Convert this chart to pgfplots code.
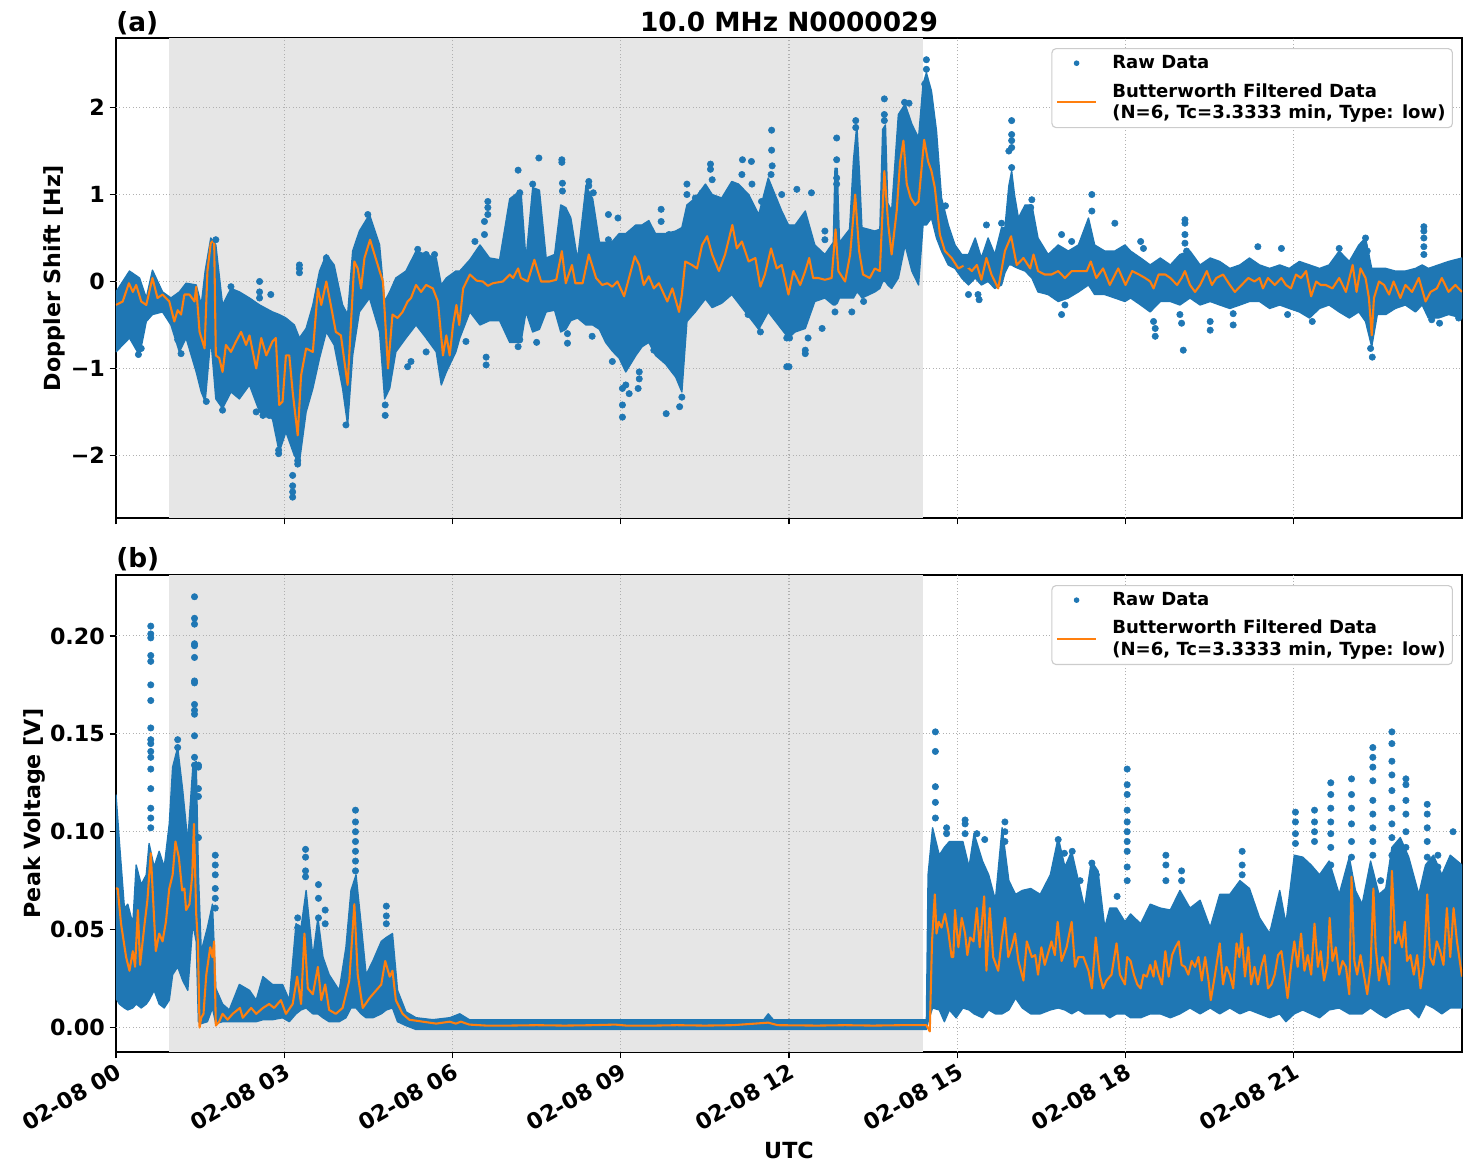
\documentclass[border=0pt]{standalone}
\usepackage{fontspec}
\setmainfont{DejaVu Sans}
\usepackage{pgfplots}
\usepackage{pgfplotstable}
\pgfplotsset{compat=1.18}

\definecolor{rawblue}{HTML}{1F77B4}
\definecolor{filtorange}{HTML}{FF7F0E}
\definecolor{nightshade}{HTML}{E6E6E6}
\definecolor{gridgray}{HTML}{B0B0B0}
\definecolor{legendedge}{HTML}{CCCCCC}

\newcommand{\tickfont}{\fontsize{16}{19}\selectfont\bfseries}
\newcommand{\legfont}{\fontsize{13}{15.5}\selectfont\bfseries}
\newcommand{\titlefont}{\fontsize{19}{22}\selectfont\bfseries}

% ---------------- Doppler shift: spread of raw samples (upper / lower edge) ----------------
\pgfplotstableread{
h up lo
0.00 -0.12 -0.81
0.24 0.12 -0.65
0.42 0.04 -0.85
0.54 -0.19 -0.46
0.65 0.13 -0.38
0.83 -0.12 -0.35
0.98 -0.19 -0.50
1.13 -0.12 -0.81
1.25 -0.02 -0.65
1.43 -0.04 -1.04
1.52 -0.27 -1.27
1.59 0.12 -1.38
1.69 0.50 -0.65
1.78 0.42 -1.35
1.90 -0.27 -1.46
2.05 -0.08 -1.27
2.20 -0.12 -1.35
2.38 -0.19 -1.19
2.56 -0.27 -1.50
2.79 -0.35 -1.58
2.91 -0.38 -1.96
3.03 -0.42 -1.73
3.18 -0.50 -2.00
3.27 -0.65 -2.08
3.39 -0.54 -1.50
3.51 -0.27 -1.23
3.63 0.12 -0.88
3.75 0.31 -0.58
3.89 0.19 -0.73
4.04 -0.27 -1.23
4.13 -0.38 -1.65
4.22 0.35 -0.85
4.34 0.58 -0.35
4.52 0.77 -0.19
4.70 0.42 -0.58
4.79 -0.23 -1.35
4.88 -0.12 -1.23
4.99 0.04 -0.81
5.17 0.12 -0.65
5.35 0.35 -0.50
5.53 0.31 -0.65
5.71 0.27 -0.81
5.80 -0.04 -1.19
5.89 0.04 -1.04
6.06 0.12 -0.81
6.13 0.12 -0.65
6.31 0.25 -0.35
6.49 0.42 -0.50
6.66 0.27 -0.45
6.84 0.25 -0.45
7.02 0.95 -0.70
7.22 1.05 -0.70
7.31 0.25 -0.35
7.43 1.08 -0.58
7.55 1.05 -0.55
7.67 0.27 -0.35
7.82 0.31 -0.33
7.93 0.88 -0.58
8.02 0.85 -0.55
8.11 0.73 -0.45
8.23 0.25 -0.42
8.38 1.10 -0.50
8.50 0.95 -0.50
8.62 0.45 -0.55
8.73 0.45 -0.70
8.85 0.46 -0.80
8.97 0.55 -0.88
9.09 0.55 -1.04
9.27 0.65 -0.85
9.38 0.65 -0.75
9.50 0.70 -0.70
9.62 0.55 -0.85
9.80 0.55 -0.95
9.98 0.58 -1.10
10.09 0.62 -1.27
10.18 0.88 -0.46
10.33 0.96 -0.35
10.51 1.12 -0.20
10.63 1.00 -0.30
10.80 0.96 -0.25
10.98 1.15 -0.15
11.10 1.12 -0.25
11.28 1.00 -0.40
11.46 0.77 -0.55
11.63 1.19 -0.35
11.75 1.00 -0.45
11.87 0.81 -0.55
11.99 0.65 -0.65
12.11 0.65 -0.58
12.29 0.81 -0.54
12.46 0.42 -0.23
12.64 0.31 -0.19
12.79 0.45 -0.27
12.82 1.30 -0.27
12.86 1.30 -0.25
12.90 0.45 -0.19
13.08 0.60 -0.19
13.15 1.40 -0.19
13.21 1.80 -0.12
13.26 1.20 -0.15
13.30 0.62 -0.19
13.53 0.58 -0.12
13.62 0.60 -0.08
13.67 1.75 0.00
13.72 1.80 0.00
13.76 0.90 -0.04
13.83 0.81 -0.08
13.95 1.92 0.04
14.07 2.04 0.42
14.19 1.81 0.12
14.31 1.65 -0.04
14.39 2.27 0.65
14.45 2.40 0.65
14.54 2.19 0.73
14.63 1.73 0.50
14.72 0.96 0.35
14.84 0.65 0.19
14.96 0.42 0.15
15.08 0.31 0.04
15.20 0.31 -0.04
15.32 0.50 0.04
15.43 0.27 -0.04
15.55 0.50 0.00
15.67 0.31 -0.08
15.79 0.62 -0.04
15.85 0.62 0.10
15.92 1.10 0.19
15.97 1.27 0.19
16.02 1.00 0.17
16.09 0.73 0.15
16.21 0.88 0.12
16.33 0.88 0.04
16.44 0.50 -0.12
16.62 0.31 -0.15
16.80 0.42 -0.23
16.98 0.35 -0.19
17.16 0.42 -0.12
17.34 0.73 -0.04
17.45 0.42 -0.15
17.63 0.35 -0.15
17.81 0.35 -0.19
17.99 0.42 -0.23
18.09 0.35 -0.19
18.27 0.27 -0.27
18.44 0.19 -0.35
18.62 0.27 -0.23
18.80 0.19 -0.23
18.97 0.31 -0.27
19.15 0.35 -0.19
19.33 0.19 -0.27
19.51 0.27 -0.23
19.68 0.23 -0.27
19.86 0.15 -0.31
20.04 0.19 -0.27
20.21 0.27 -0.23
20.39 0.19 -0.23
20.57 0.15 -0.31
20.75 0.19 -0.27
20.92 0.15 -0.31
21.10 0.23 -0.35
21.28 0.19 -0.42
21.46 0.15 -0.31
21.63 0.19 -0.27
21.81 0.35 -0.35
21.99 0.23 -0.42
22.16 0.42 -0.35
22.28 0.50 -0.46
22.39 0.15 -0.75
22.49 0.15 -0.38
22.64 0.15 -0.38
22.81 0.12 -0.31
22.99 0.12 -0.27
23.17 0.15 -0.35
23.29 0.19 -0.27
23.40 0.15 -0.42
23.58 0.19 -0.42
23.76 0.23 -0.38
24.00 0.27 -0.42
}\topenv

% ---------------- Doppler shift: isolated raw samples ----------------
\pgfplotstableread{
h v
2.56 0.00
2.56 -0.12
2.56 -0.19
2.76 -0.15
3.27 0.19
3.27 0.15
3.27 0.10
3.15 -2.23
3.15 -2.35
3.15 -2.42
3.15 -2.48
3.24 -2.06
3.24 -2.10
2.90 -1.94
2.90 -1.98
4.80 -1.54
4.80 -1.42
0.40 -0.84
0.45 -0.77
1.10 -0.67
1.16 -0.83
2.05 -0.06
5.38 0.37
5.53 0.31
5.68 0.31
4.10 -1.65
1.61 -1.38
1.90 -1.48
2.50 -1.50
2.62 -1.54
2.73 -1.54
5.59 -0.65
5.53 -0.81
5.20 -0.98
5.26 -0.92
4.49 0.77
1.78 0.48
3.75 0.27
6.60 -0.87
6.60 -0.96
6.63 0.92
6.63 0.85
6.63 0.77
6.57 0.69
6.57 0.54
6.40 0.46
6.24 -0.69
7.17 1.28
7.08 0.88
7.20 1.02
7.20 -0.67
7.17 -0.75
7.54 1.42
7.50 -0.70
7.43 1.12
7.95 1.40
7.95 1.37
7.96 1.13
7.96 1.04
8.05 -0.71
8.05 -0.60
8.43 1.15
8.43 1.10
8.49 -0.63
8.51 1.02
8.78 0.77
8.95 0.73
8.78 0.48
8.85 -0.92
9.03 -1.56
9.03 -1.42
9.03 -1.23
9.09 -1.19
9.15 -1.29
9.33 -1.04
9.33 -1.12
9.31 -1.23
9.59 -0.79
9.72 0.83
9.72 0.69
9.86 0.54
9.81 -1.52
10.05 -1.44
10.09 -1.33
10.18 1.12
10.18 1.00
10.33 0.96
10.45 1.02
10.60 1.35
10.60 1.29
10.63 1.17
11.16 1.23
11.17 1.40
11.33 1.38
11.34 1.12
11.51 0.92
11.27 -0.38
11.49 -0.58
11.69 1.74
11.69 1.51
11.70 1.33
11.68 1.23
11.87 1.00
11.96 -0.65
11.96 -0.98
12.14 1.06
12.40 1.02
12.64 0.58
12.64 0.48
12.85 1.65
12.85 1.40
12.85 1.19
12.85 1.12
13.19 1.85
13.19 1.77
13.70 2.10
13.70 1.92
13.70 1.85
14.06 2.06
14.14 2.05
14.45 2.55
14.45 2.44
14.42 2.27
14.79 0.87
15.17 0.19
15.20 -0.15
15.37 -0.15
15.39 -0.21
15.52 0.65
15.79 0.67
15.97 1.85
15.97 1.69
15.97 1.62
15.97 1.54
15.92 1.50
15.97 1.31
16.33 0.94
16.31 0.85
17.40 1.00
17.40 0.81
17.81 0.67
16.86 0.54
17.04 0.46
16.86 -0.38
16.92 -0.27
12.00 -0.98
12.01 -0.65
12.29 -0.79
12.29 -0.83
12.34 -0.65
12.59 -0.54
13.12 -0.35
13.33 -0.23
12.82 -0.35
19.06 0.71
19.06 0.67
19.06 0.54
19.06 0.44
19.03 -0.79
19.09 0.35
18.97 -0.38
19.00 -0.48
18.27 0.46
18.32 0.38
18.53 -0.54
18.53 -0.63
18.50 -0.46
19.51 -0.46
19.51 -0.56
19.92 -0.37
19.92 -0.50
20.36 0.40
20.78 0.38
21.81 0.38
22.28 0.50
22.25 0.42
22.31 0.35
23.32 0.63
23.32 0.58
23.32 0.50
23.32 0.40
23.32 0.31
22.40 -0.87
22.37 -0.77
21.33 -0.46
21.16 -0.33
20.89 -0.38
23.46 -0.44
23.94 -0.42
23.60 -0.48
}\topdots

% ---------------- Doppler shift: low-pass filtered ----------------
\pgfplotstableread{
h v
0.00 -0.27
0.12 -0.23
0.23 -0.02
0.30 -0.12
0.36 -0.04
0.45 -0.23
0.54 -0.27
0.65 0.04
0.74 -0.19
0.83 -0.15
0.95 -0.23
1.04 -0.46
1.10 -0.33
1.16 -0.38
1.22 -0.15
1.31 -0.15
1.40 -0.23
1.43 -0.06
1.49 -0.58
1.58 -0.77
1.63 0.12
1.69 0.44
1.75 0.48
1.78 -0.85
1.84 -0.88
1.90 -1.04
1.96 -0.73
2.05 -0.81
2.14 -0.69
2.23 -0.58
2.32 -0.73
2.38 -0.62
2.50 -1.00
2.59 -0.65
2.68 -0.85
2.79 -0.69
2.85 -0.65
2.91 -1.42
2.97 -1.38
3.03 -0.85
3.09 -0.85
3.15 -1.27
3.24 -1.77
3.30 -1.08
3.39 -0.77
3.51 -0.81
3.60 -0.08
3.66 -0.27
3.75 0.00
3.83 -0.27
3.92 -0.58
4.01 -0.62
4.13 -1.19
4.25 0.23
4.31 0.15
4.37 -0.08
4.43 0.27
4.53 0.48
4.61 0.31
4.70 0.12
4.76 0.00
4.85 -1.00
4.93 -0.38
5.02 -0.42
5.11 -0.35
5.20 -0.23
5.26 -0.19
5.35 -0.04
5.44 -0.12
5.53 -0.04
5.65 -0.08
5.74 -0.23
5.83 -0.85
5.89 -0.62
5.95 -0.85
6.01 -0.50
6.07 -0.27
6.12 -0.50
6.19 -0.08
6.31 0.08
6.43 0.01
6.54 0.00
6.63 -0.05
6.72 -0.02
6.90 0.00
7.02 0.08
7.08 0.04
7.17 0.15
7.22 0.04
7.34 0.00
7.46 0.25
7.52 0.12
7.58 0.00
7.73 0.00
7.85 0.02
7.95 0.35
8.02 -0.02
8.13 0.19
8.19 -0.02
8.32 -0.02
8.43 0.31
8.56 0.04
8.67 -0.04
8.76 -0.02
8.85 -0.06
8.94 0.00
9.06 -0.17
9.18 0.12
9.25 0.29
9.33 0.19
9.41 -0.04
9.50 0.06
9.59 -0.08
9.68 -0.02
9.83 -0.23
9.92 -0.08
10.04 -0.35
10.09 -0.15
10.15 0.23
10.27 0.19
10.36 0.15
10.45 0.42
10.54 0.52
10.63 0.31
10.75 0.12
10.86 0.31
10.99 0.65
11.07 0.38
11.16 0.46
11.28 0.23
11.40 0.27
11.49 -0.06
11.57 0.08
11.68 0.38
11.78 0.15
11.87 0.19
11.99 -0.15
12.08 0.12
12.20 -0.04
12.29 0.12
12.36 0.27
12.43 0.04
12.52 0.04
12.64 0.02
12.76 0.04
12.83 0.60
12.88 0.12
13.00 0.00
13.09 0.31
13.18 1.00
13.25 0.35
13.32 0.08
13.44 0.04
13.53 0.15
13.62 0.12
13.70 1.27
13.77 0.65
13.83 0.31
13.92 0.81
13.98 1.37
14.04 1.62
14.10 1.12
14.17 0.96
14.25 0.88
14.31 0.92
14.41 1.63
14.48 1.38
14.54 1.27
14.60 1.08
14.69 0.54
14.78 0.35
14.90 0.27
15.02 0.15
15.14 0.19
15.26 0.12
15.35 0.19
15.43 0.02
15.52 0.27
15.61 0.08
15.73 -0.08
15.85 0.35
15.96 0.52
16.06 0.19
16.18 0.27
16.30 0.15
16.36 0.31
16.44 0.12
16.56 0.08
16.68 0.08
16.80 0.12
16.92 0.04
17.04 0.12
17.16 0.12
17.31 0.12
17.38 0.23
17.48 0.04
17.60 0.15
17.72 -0.04
17.87 0.15
18.00 -0.04
18.12 0.12
18.24 0.08
18.35 0.04
18.44 0.00
18.50 -0.08
18.59 0.08
18.71 0.08
18.80 0.04
18.92 -0.04
19.00 0.04
19.06 0.12
19.15 -0.04
19.24 -0.12
19.33 -0.04
19.45 0.12
19.54 -0.04
19.62 0.04
19.74 0.08
19.86 -0.04
19.95 -0.12
20.07 -0.04
20.19 0.04
20.30 0.00
20.39 0.04
20.45 -0.08
20.54 0.04
20.66 -0.04
20.78 0.04
20.86 -0.04
20.95 -0.08
21.04 0.08
21.13 0.04
21.22 0.12
21.31 -0.17
21.40 0.00
21.48 -0.04
21.57 -0.04
21.69 -0.08
21.81 0.04
21.93 -0.12
22.05 0.19
22.12 -0.12
22.19 0.15
22.28 0.04
22.34 -0.19
22.39 -0.62
22.43 -0.19
22.52 0.00
22.61 -0.04
22.70 -0.15
22.78 0.00
22.90 -0.19
22.99 -0.04
23.11 -0.12
23.23 0.04
23.35 -0.23
23.44 -0.12
23.55 -0.08
23.64 0.04
23.76 -0.12
23.88 -0.04
24.00 -0.12
}\topfilt

% ---------------- Peak voltage: spread of raw samples ----------------
\pgfplotstableread{
h up lo
0.00 0.119 0.015
0.06 0.095 0.012
0.15 0.061 0.010
0.21 0.063 0.009
0.30 0.053 0.010
0.36 0.083 0.012
0.45 0.073 0.010
0.54 0.078 0.012
0.59 0.094 0.014
0.68 0.082 0.019
0.77 0.090 0.012
0.86 0.082 0.010
0.95 0.104 0.014
1.01 0.133 0.027
1.10 0.143 0.031
1.19 0.121 0.024
1.28 0.095 0.019
1.37 0.133 0.053
1.43 0.136 0.044
1.47 0.078 0.003
1.52 0.039 0.002
1.63 0.051 0.003
1.72 0.063 0.010
1.78 0.020 0.002
1.90 0.012 0.003
2.02 0.009 0.003
2.20 0.022 0.003
2.38 0.019 0.003
2.50 0.014 0.003
2.62 0.026 0.004
2.79 0.022 0.004
2.97 0.022 0.005
3.09 0.014 0.003
3.21 0.053 0.007
3.30 0.051 0.009
3.39 0.070 0.010
3.51 0.036 0.007
3.60 0.056 0.007
3.69 0.036 0.005
3.80 0.027 0.003
3.98 0.019 0.003
4.10 0.041 0.005
4.19 0.070 0.010
4.28 0.078 0.010
4.37 0.053 0.007
4.46 0.027 0.005
4.58 0.034 0.005
4.73 0.044 0.007
4.82 0.046 0.009
4.93 0.048 0.010
5.02 0.019 0.003
5.17 0.008 0.001
5.35 0.005 -0.001
5.65 0.004 -0.001
5.95 0.005 -0.001
6.13 0.007 -0.001
6.30 0.004 -0.001
7.00 0.004 -0.001
8.00 0.004 -0.001
9.00 0.004 -0.001
10.00 0.004 -0.001
11.00 0.004 -0.001
11.55 0.004 -0.001
11.63 0.007 -0.001
11.72 0.004 -0.001
12.50 0.004 -0.001
13.50 0.004 -0.001
14.45 0.004 -0.001
14.48 0.078 0.003
14.56 0.102 0.010
14.68 0.088 0.009
14.77 0.092 0.003
14.86 0.095 0.009
14.98 0.095 0.005
15.10 0.095 0.010
15.21 0.082 0.009
15.30 0.099 0.007
15.45 0.085 0.005
15.56 0.078 0.009
15.68 0.065 0.007
15.80 0.102 0.007
15.92 0.075 0.009
16.04 0.068 0.015
16.16 0.070 0.010
16.31 0.071 0.007
16.48 0.068 0.007
16.66 0.078 0.009
16.80 0.097 0.010
16.92 0.082 0.009
17.04 0.090 0.007
17.16 0.075 0.009
17.27 0.061 0.007
17.39 0.085 0.007
17.51 0.080 0.007
17.63 0.051 0.007
17.72 0.061 0.005
17.84 0.061 0.007
17.99 0.054 0.007
18.09 0.058 0.005
18.27 0.053 0.005
18.44 0.063 0.007
18.62 0.061 0.007
18.80 0.060 0.005
18.97 0.070 0.007
19.15 0.061 0.010
19.33 0.065 0.007
19.51 0.051 0.010
19.68 0.068 0.007
19.86 0.068 0.010
20.04 0.075 0.007
20.21 0.071 0.009
20.39 0.056 0.007
20.57 0.048 0.005
20.75 0.070 0.007
20.86 0.053 0.003
21.01 0.088 0.007
21.16 0.087 0.009
21.31 0.083 0.007
21.46 0.078 0.005
21.63 0.085 0.009
21.81 0.068 0.010
21.99 0.087 0.007
22.10 0.070 0.007
22.22 0.063 0.007
22.37 0.085 0.010
22.52 0.068 0.007
22.64 0.071 0.005
22.75 0.092 0.007
22.90 0.097 0.009
23.05 0.087 0.010
23.23 0.068 0.005
23.35 0.083 0.012
23.49 0.088 0.010
23.64 0.078 0.007
23.79 0.088 0.010
24.00 0.083 0.010
}\botenv

% ---------------- Peak voltage: isolated raw samples ----------------
\pgfplotstableread{
h v
0.62 0.205
0.62 0.201
0.62 0.199
0.62 0.190
0.62 0.187
0.62 0.175
0.62 0.167
0.62 0.153
0.62 0.147
0.62 0.145
0.62 0.141
0.62 0.138
0.62 0.132
0.62 0.122
0.62 0.112
0.62 0.107
0.62 0.102
1.40 0.220
1.40 0.209
1.40 0.206
1.40 0.196
1.40 0.195
1.40 0.189
1.40 0.177
1.40 0.176
1.40 0.165
1.40 0.162
1.40 0.160
1.40 0.149
1.40 0.138
1.40 0.134
1.10 0.147
1.10 0.143
1.47 0.134
1.47 0.133
1.47 0.122
1.47 0.118
1.47 0.097
1.77 0.088
1.77 0.083
1.77 0.078
1.77 0.071
1.77 0.066
1.77 0.061
3.38 0.091
3.38 0.087
3.38 0.080
3.38 0.077
3.24 0.056
3.24 0.051
3.24 0.043
3.61 0.073
3.61 0.066
3.61 0.056
3.73 0.060
3.73 0.053
4.27 0.111
4.27 0.105
4.27 0.100
4.27 0.095
4.27 0.090
4.27 0.085
4.27 0.080
4.82 0.062
4.82 0.057
4.82 0.053
14.61 0.151
14.61 0.141
14.61 0.123
14.61 0.115
14.61 0.107
15.14 0.106
15.14 0.104
15.14 0.099
15.85 0.105
15.85 0.100
15.85 0.095
14.81 0.102
14.81 0.099
15.35 0.099
15.49 0.096
16.80 0.096
16.91 0.089
16.91 0.082
16.91 0.077
17.05 0.090
17.40 0.084
17.48 0.078
17.85 0.067
17.19 0.075
18.03 0.132
18.03 0.124
18.03 0.119
18.03 0.111
18.03 0.105
18.03 0.100
18.03 0.095
18.03 0.090
18.03 0.082
18.03 0.075
18.72 0.088
18.72 0.083
18.72 0.075
19.00 0.080
19.00 0.075
20.08 0.090
20.08 0.083
20.08 0.078
21.03 0.110
21.03 0.105
21.03 0.099
21.03 0.094
21.37 0.111
21.37 0.105
21.37 0.100
21.37 0.095
21.66 0.125
21.66 0.119
21.66 0.112
21.66 0.105
21.66 0.099
21.66 0.092
21.66 0.083
21.66 0.077
22.03 0.127
22.03 0.119
22.03 0.112
22.03 0.104
22.03 0.095
22.03 0.087
22.41 0.143
22.41 0.138
22.41 0.133
22.41 0.126
22.41 0.116
22.41 0.109
22.41 0.102
22.41 0.095
22.41 0.088
22.75 0.151
22.75 0.145
22.75 0.136
22.75 0.129
22.75 0.121
22.75 0.112
22.75 0.104
22.75 0.097
22.75 0.088
23.00 0.127
23.00 0.124
23.00 0.116
23.00 0.109
23.00 0.100
23.00 0.092
23.38 0.114
23.38 0.109
23.38 0.102
23.38 0.095
23.38 0.087
23.84 0.100
23.57 0.088
23.57 0.082
22.55 0.075
}\botdots

% ---------------- Peak voltage: low-pass filtered ----------------
\pgfplotstableread{
h v
0.00 0.071
0.03 0.071
0.09 0.053
0.18 0.036
0.24 0.029
0.30 0.039
0.34 0.031
0.39 0.060
0.43 0.032
0.51 0.053
0.56 0.065
0.62 0.089
0.67 0.061
0.71 0.039
0.77 0.048
0.83 0.044
0.89 0.054
0.95 0.071
1.01 0.078
1.06 0.095
1.12 0.087
1.18 0.070
1.22 0.071
1.25 0.060
1.31 0.063
1.36 0.078
1.39 0.104
1.43 0.058
1.46 0.044
1.49 0.000
1.52 0.005
1.56 0.007
1.61 0.027
1.68 0.041
1.72 0.036
1.75 0.044
1.78 0.001
1.84 0.003
1.90 0.007
1.99 0.004
2.08 0.007
2.21 0.010
2.26 0.005
2.41 0.010
2.50 0.007
2.62 0.010
2.73 0.012
2.82 0.010
2.94 0.014
3.03 0.007
3.15 0.012
3.23 0.026
3.30 0.012
3.36 0.048
3.42 0.020
3.51 0.017
3.60 0.031
3.66 0.014
3.73 0.022
3.80 0.009
3.92 0.007
4.04 0.010
4.16 0.024
4.25 0.063
4.31 0.027
4.40 0.010
4.52 0.015
4.64 0.019
4.73 0.022
4.80 0.034
4.88 0.026
4.93 0.029
4.99 0.014
5.11 0.007
5.23 0.004
5.47 0.003
5.71 0.002
5.95 0.003
6.06 0.002
6.15 0.003
6.30 0.0015
6.60 0.001
7.00 0.001
7.50 0.0012
8.00 0.001
8.50 0.0012
8.90 0.0015
9.10 0.001
9.60 0.001
10.00 0.0012
10.50 0.001
11.00 0.0012
11.63 0.0025
11.80 0.0012
12.50 0.001
13.00 0.0012
13.50 0.001
14.00 0.0012
14.45 0.0012
14.51 -0.002
14.55 0.044
14.60 0.068
14.63 0.048
14.67 0.054
14.72 0.051
14.78 0.058
14.84 0.049
14.90 0.036
14.93 0.036
14.96 0.060
15.02 0.041
15.08 0.056
15.14 0.048
15.18 0.037
15.23 0.046
15.29 0.044
15.35 0.061
15.40 0.041
15.48 0.067
15.52 0.029
15.58 0.061
15.64 0.036
15.73 0.029
15.79 0.044
15.85 0.056
15.91 0.036
15.97 0.041
16.03 0.048
16.09 0.034
16.18 0.024
16.24 0.044
16.33 0.036
16.39 0.037
16.44 0.027
16.50 0.041
16.56 0.032
16.68 0.044
16.74 0.037
16.79 0.054
16.86 0.034
16.95 0.041
17.04 0.054
17.10 0.031
17.16 0.036
17.25 0.036
17.34 0.029
17.40 0.020
17.47 0.046
17.54 0.027
17.60 0.020
17.66 0.024
17.75 0.027
17.84 0.043
17.90 0.027
17.99 0.022
18.03 0.036
18.09 0.034
18.15 0.027
18.21 0.022
18.27 0.020
18.32 0.027
18.38 0.026
18.44 0.032
18.50 0.026
18.53 0.034
18.59 0.027
18.65 0.022
18.71 0.039
18.77 0.026
18.83 0.037
18.89 0.041
18.95 0.044
19.00 0.032
19.06 0.031
19.12 0.027
19.18 0.034
19.24 0.031
19.30 0.036
19.36 0.024
19.42 0.036
19.48 0.024
19.52 0.014
19.59 0.026
19.68 0.043
19.74 0.022
19.80 0.031
19.86 0.027
19.92 0.020
19.98 0.043
20.03 0.036
20.07 0.048
20.13 0.026
20.19 0.041
20.24 0.022
20.30 0.031
20.36 0.022
20.42 0.031
20.48 0.037
20.54 0.020
20.60 0.022
20.66 0.027
20.72 0.037
20.78 0.039
20.84 0.026
20.89 0.015
20.95 0.031
21.01 0.044
21.07 0.031
21.13 0.048
21.19 0.029
21.25 0.037
21.31 0.027
21.37 0.053
21.43 0.031
21.48 0.039
21.54 0.024
21.60 0.032
21.64 0.056
21.69 0.034
21.75 0.041
21.81 0.027
21.87 0.034
21.93 0.031
21.99 0.017
22.03 0.077
22.08 0.034
22.13 0.027
22.19 0.037
22.25 0.027
22.31 0.017
22.37 0.031
22.42 0.071
22.46 0.041
22.52 0.024
22.58 0.036
22.64 0.031
22.70 0.022
22.75 0.080
22.81 0.043
22.87 0.049
22.93 0.041
22.98 0.054
23.02 0.034
23.08 0.037
23.14 0.027
23.20 0.037
23.26 0.020
23.32 0.032
23.38 0.068
23.43 0.036
23.49 0.032
23.55 0.044
23.61 0.039
23.67 0.032
23.73 0.061
23.79 0.036
23.85 0.061
23.91 0.044
24.00 0.026
}\botfilt

% Closed outlines of the raw-sample spread: upper edge forward, lower edge back.
\pgfplotstablesort[sort key=h, sort cmp=float >]{\topenvback}{\topenv}
\pgfplotstablecreatecol[create col/copy=up]{v}{\topenv}
\pgfplotstablecreatecol[create col/copy=lo]{v}{\topenvback}
\pgfplotstablevertcat{\topenv}{\topenvback}
\pgfplotstablesort[sort key=h, sort cmp=float >]{\botenvback}{\botenv}
\pgfplotstablecreatecol[create col/copy=up]{v}{\botenv}
\pgfplotstablecreatecol[create col/copy=lo]{v}{\botenvback}
\pgfplotstablevertcat{\botenv}{\botenvback}

\pgfplotsset{
  panel/.style={
    scale only axis,
    width=969.12pt,
    xmin=0, xmax=24,
    xtick={0,3,...,21},
    clip=true,
    tick pos=left,
    axis line style={line width=1pt},
    tick align=outside,
    major tick length=4.5pt,
    tick style={black, line width=1pt},
    tick label style={font=\tickfont},
    /pgf/number format/assume math mode=true,
    scaled y ticks=false,
    label style={font=\tickfont},
    title style={font=\titlefont, at={(0.5,1)}, anchor=base, yshift=-1pt},
    legend cell align=left,
    legend style={
      at={(0.9933,0.979)}, anchor=north east,
      draw=legendedge, line width=0.8pt, rounded corners=3pt, fill=white,
      font=\legfont, cells={align=left},
      inner xsep=3pt, inner ysep=3pt, row sep=5pt,
      /tikz/every odd column/.append style={column sep=9pt},
    },
  },
  gridline/.style={gridgray, dash pattern=on 0.8pt off 1.6pt, line width=0.8pt, forget plot},
  rawenv/.style={draw=rawblue, fill=rawblue, line width=1pt, line join=round, forget plot},
  rawpts/.style={only marks, mark=*, mark size=2.3pt, color=rawblue, forget plot},
  filt/.style={filtorange, line width=1.5pt, line join=round,
    legend image code/.code={\draw[##1] (0pt,0pt) -- (28pt,0pt);}},
  rawlegend/.style={rawblue,
    legend image code/.code={\path (0pt,0pt) (28pt,0pt);\fill[rawblue] (14pt,0pt) circle (1.6pt);}},
}

\begin{document}
\begin{tikzpicture}
\path[use as bounding box] (-83.52pt,27.36pt) rectangle (976.32pt,-816.48pt);

% ---------------- (a) Doppler shift ----------------
\begin{axis}[panel, at={(0pt,0pt)}, anchor=north west, height=345.6pt,
  ymin=-2.72, ymax=2.80,
  ytick={-2,-1,0,1,2}, yticklabels={−2,−1,0,1,2},
  xticklabels={},
  ylabel={Doppler Shift [Hz]},
  ylabel style={at={(axis description cs:-0.0457,0.5)}, anchor=center},
  title={10.0 MHz N0000029},
]
% night-time span
\addplot[fill=nightshade, draw=none, forget plot]
  coordinates {(0.945,-2.72) (14.39,-2.72) (14.39,2.80) (0.945,2.80)};
% dotted grid
\addplot[gridline] coordinates {(3,-2.72) (3,2.80)};
\addplot[gridline] coordinates {(6,-2.72) (6,2.80)};
\addplot[gridline] coordinates {(9,-2.72) (9,2.80)};
\addplot[gridline] coordinates {(12,-2.72) (12,2.80)};
\addplot[gridline] coordinates {(15,-2.72) (15,2.80)};
\addplot[gridline] coordinates {(18,-2.72) (18,2.80)};
\addplot[gridline] coordinates {(21,-2.72) (21,2.80)};
\addplot[gridline] coordinates {(0,-2) (24,-2)};
\addplot[gridline] coordinates {(0,-1) (24,-1)};
\addplot[gridline] coordinates {(0,0) (24,0)};
\addplot[gridline] coordinates {(0,1) (24,1)};
\addplot[gridline] coordinates {(0,2) (24,2)};
% raw samples and filtered curve
\addplot[rawenv] table[x=h, y=v] {\topenv};
\addplot[rawpts] table[x=h, y=v] {\topdots};
\addlegendimage{rawlegend}
\addlegendentry{Raw Data}
\addplot[filt] table[x=h, y=v] {\topfilt};
\addlegendentry{Butterworth Filtered Data\\(N=6, Tc=3.3333 min, Type: low)}
\end{axis}
\node[anchor=base west, font=\titlefont, inner xsep=0pt] at (0pt,5pt) {(a)};

% ---------------- (b) Peak voltage ----------------
\begin{axis}[panel, at={(0pt,-386.64pt)}, anchor=north west, height=343.44pt,
  ymin=-0.0125, ymax=0.2311,
  ytick={0,0.05,0.10,0.15,0.20}, yticklabels={0.00,0.05,0.10,0.15,0.20},
  xticklabels={02-08 00,02-08 03,02-08 06,02-08 09,02-08 12,02-08 15,02-08 18,02-08 21},
  xticklabel style={rotate=30, anchor=north east, inner sep=2pt},
  xlabel={UTC},
  xlabel style={at={(axis description cs:0.5,-0.2055)}, anchor=center},
  ylabel={Peak Voltage [V]},
  ylabel style={at={(axis description cs:-0.0609,0.5)}, anchor=center},
]
\addplot[fill=nightshade, draw=none, forget plot]
  coordinates {(0.945,-0.0125) (14.39,-0.0125) (14.39,0.2311) (0.945,0.2311)};
\addplot[gridline] coordinates {(3,-0.0125) (3,0.2311)};
\addplot[gridline] coordinates {(6,-0.0125) (6,0.2311)};
\addplot[gridline] coordinates {(9,-0.0125) (9,0.2311)};
\addplot[gridline] coordinates {(12,-0.0125) (12,0.2311)};
\addplot[gridline] coordinates {(15,-0.0125) (15,0.2311)};
\addplot[gridline] coordinates {(18,-0.0125) (18,0.2311)};
\addplot[gridline] coordinates {(21,-0.0125) (21,0.2311)};
\addplot[gridline] coordinates {(0,0) (24,0)};
\addplot[gridline] coordinates {(0,0.05) (24,0.05)};
\addplot[gridline] coordinates {(0,0.10) (24,0.10)};
\addplot[gridline] coordinates {(0,0.15) (24,0.15)};
\addplot[gridline] coordinates {(0,0.20) (24,0.20)};
\addplot[rawenv] table[x=h, y=v] {\botenv};
\addplot[rawpts] table[x=h, y=v] {\botdots};
\addlegendimage{rawlegend}
\addlegendentry{Raw Data}
\addplot[filt] table[x=h, y=v] {\botfilt};
\addlegendentry{Butterworth Filtered Data\\(N=6, Tc=3.3333 min, Type: low)}
\end{axis}
\node[anchor=base west, font=\titlefont, inner xsep=0pt] at (0pt,-381.1pt) {(b)};
\end{tikzpicture}
\end{document}
